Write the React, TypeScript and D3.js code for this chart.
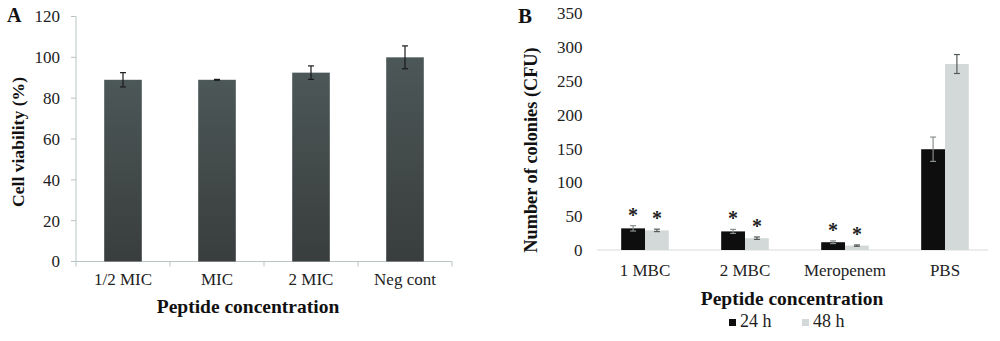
import React from "react";
import * as d3 from "d3";

// Panel A data
const catsA = ["1/2 MIC", "MIC", "2 MIC", "Neg cont"];
const viability = [89, 89, 92.5, 100];
const viabilityErr = [3.5, 0.2, 3.3, 5.6];
const ticksA = [0, 20, 40, 60, 80, 100, 120];

// Panel B data
const catsB = ["1 MBC", "2 MBC", "Meropenem", "PBS"];
const seriesB = ["24 h", "48 h"];
const cfu24 = [32, 27.5, 11.5, 149];
const cfu48 = [29, 17.5, 6.5, 275];
const err24 = [4, 3, 2, 18];
const err48 = [1.8, 1.8, 1, 14];
const star24 = [true, true, true, false];
const star48 = [true, true, true, false];
const ticksB = [0, 50, 100, 150, 200, 250, 300, 350];

const SERIF = "'Liberation Serif', 'Times New Roman', serif";

export default function App() {
  // Panel A scales
  const xA = d3.scaleBand<string>().domain(catsA).range([76, 452]).paddingInner(0.6).paddingOuter(0.3);
  const xAstep = d3.scaleBand<string>().domain(catsA).range([76, 452]).padding(0);
  const yA = d3.scaleLinear().domain([0, 120]).range([261.5, 16.5]);

  // Panel B scales
  const xB = d3.scaleBand<string>().domain(catsB).range([595, 995]).padding(0);
  const xB1 = d3.scaleBand<string>().domain(seriesB).range([0, xB.bandwidth()]).paddingInner(0).paddingOuter(1.1);
  const yB = d3.scaleLinear().domain([0, 350]).range([250, 13.3]);

  const valsB = [cfu24, cfu48];
  const errsB = [err24, err48];
  const starsB = [star24, star48];
  const fillB = ["#0e0e0e", "#d3d9d9"];
  const errColB = ["#8a8f8f", "#555a5a"];

  const capW = 3;

  return (
    <svg width={1000} height={341} style={{ position: "absolute", left: 0, top: 0, background: "#fff" }} fontFamily={SERIF}>
      <defs>
        <linearGradient id="barGradA" x1="0" y1="0" x2="0" y2="1">
          <stop offset="0%" stopColor="#4c5757" />
          <stop offset="100%" stopColor="#393d3d" />
        </linearGradient>
      </defs>
      <rect x={0} y={0} width={1000} height={341} fill="#fff" />

      {/* ===== Panel A ===== */}
      <text x={7} y={22} fontSize={20} fontWeight="bold" fill="#111">A</text>
      {/* y axis */}
      <line x1={76} x2={76} y1={yA(120)} y2={yA(0)} stroke="#b9c4c4" strokeWidth={1} />
      {ticksA.map((t) => (
        <g key={"ta" + t}>
          <line x1={71} x2={76} y1={yA(t)} y2={yA(t)} stroke="#b9c4c4" />
          <text x={60} y={yA(t)} dy="0.35em" textAnchor="end" fontSize={17} fill="#222">{t}</text>
        </g>
      ))}
      {/* x axis */}
      <line x1={76} x2={452} y1={yA(0)} y2={yA(0)} stroke="#b9c4c4" />
      {catsA.map((c) => (
        <line key={"xta" + c} x1={xAstep(c)! + xAstep.step()} x2={xAstep(c)! + xAstep.step()} y1={yA(0)} y2={yA(0) + 5} stroke="#b9c4c4" />
      ))}
      <line x1={76} x2={76} y1={yA(0)} y2={yA(0) + 5} stroke="#b9c4c4" />
      {catsA.map((c, i) => {
        const x = xA(c)!;
        const w = xA.bandwidth();
        const cx = x + w / 2;
        return (
          <g key={"ba" + c}>
            <rect x={x} y={yA(viability[i])} width={w} height={yA(0) - yA(viability[i])} fill="url(#barGradA)" />
            <line x1={cx} x2={cx} y1={yA(viability[i] + viabilityErr[i])} y2={yA(viability[i] - viabilityErr[i])} stroke="#1a1a1a" strokeWidth={1.2} />
            <line x1={cx - capW} x2={cx + capW} y1={yA(viability[i] + viabilityErr[i])} y2={yA(viability[i] + viabilityErr[i])} stroke="#1a1a1a" strokeWidth={1.2} />
            <line x1={cx - capW} x2={cx + capW} y1={yA(viability[i] - viabilityErr[i])} y2={yA(viability[i] - viabilityErr[i])} stroke="#1a1a1a" strokeWidth={1.2} />
            <text x={cx} y={285} textAnchor="middle" fontSize={17} fill="#222">{c}</text>
          </g>
        );
      })}
      <text x={248} y={313} textAnchor="middle" fontSize={19.5} fontWeight="bold" fill="#111">Peptide concentration</text>
      <text transform={`translate(24,142) rotate(-90)`} textAnchor="middle" fontSize={17.6} fontWeight="bold" fill="#111">Cell viability (%)</text>

      {/* ===== Panel B ===== */}
      <text x={518} y={23} fontSize={21} fontWeight="bold" fill="#111">B</text>
      {ticksB.map((t) => (
        <text key={"tb" + t} x={582.5} y={yB(t)} dy="0.35em" textAnchor="end" fontSize={17} fill="#222">{t}</text>
      ))}
      <line x1={597} x2={988} y1={yB(0)} y2={yB(0)} stroke="#d9dddd" strokeWidth={1} />
      {catsB.map((c, i) => (
        <g key={"gb" + c} transform={`translate(${xB(c)},0)`}>
          {seriesB.map((s, j) => {
            const v = valsB[j][i];
            const e = errsB[j][i];
            const x = xB1(s)!;
            const w = xB1.bandwidth();
            const cx = x + w / 2;
            return (
              <g key={s}>
                <rect x={x} y={yB(v)} width={w} height={yB(0) - yB(v)} fill={fillB[j]} />
                <line x1={cx} x2={cx} y1={yB(v + e)} y2={yB(v - e)} stroke={errColB[j]} strokeWidth={1.2} />
                <line x1={cx - capW} x2={cx + capW} y1={yB(v + e)} y2={yB(v + e)} stroke={errColB[j]} strokeWidth={1.2} />
                <line x1={cx - capW} x2={cx + capW} y1={yB(v - e)} y2={yB(v - e)} stroke={errColB[j]} strokeWidth={1.2} />
                {starsB[j][i] && (
                  <text x={cx} y={yB(v + e) - 4} textAnchor="middle" fontSize={20} fontWeight="bold" fill="#222">*</text>
                )}
              </g>
            );
          })}
          <text x={xB.bandwidth() / 2} y={276} textAnchor="middle" fontSize={17} fill="#222">{c}</text>
        </g>
      ))}
      <text x={792} y={305} textAnchor="middle" fontSize={19.5} fontWeight="bold" fill="#111">Peptide concentration</text>
      <text transform={`translate(537,150) rotate(-90)`} textAnchor="middle" fontSize={18.3} fontWeight="bold" fill="#111">Number of colonies (CFU)</text>

      {/* legend */}
      {seriesB.map((s, j) => (
        <g key={"lg" + s} transform={`translate(${729 + j * 73},0)`}>
          <rect x={0} y={319} width={7} height={7} fill={fillB[j]} />
          <text x={11} y={327} fontSize={18} fill="#222">{s}</text>
        </g>
      ))}
    </svg>
  );
}
